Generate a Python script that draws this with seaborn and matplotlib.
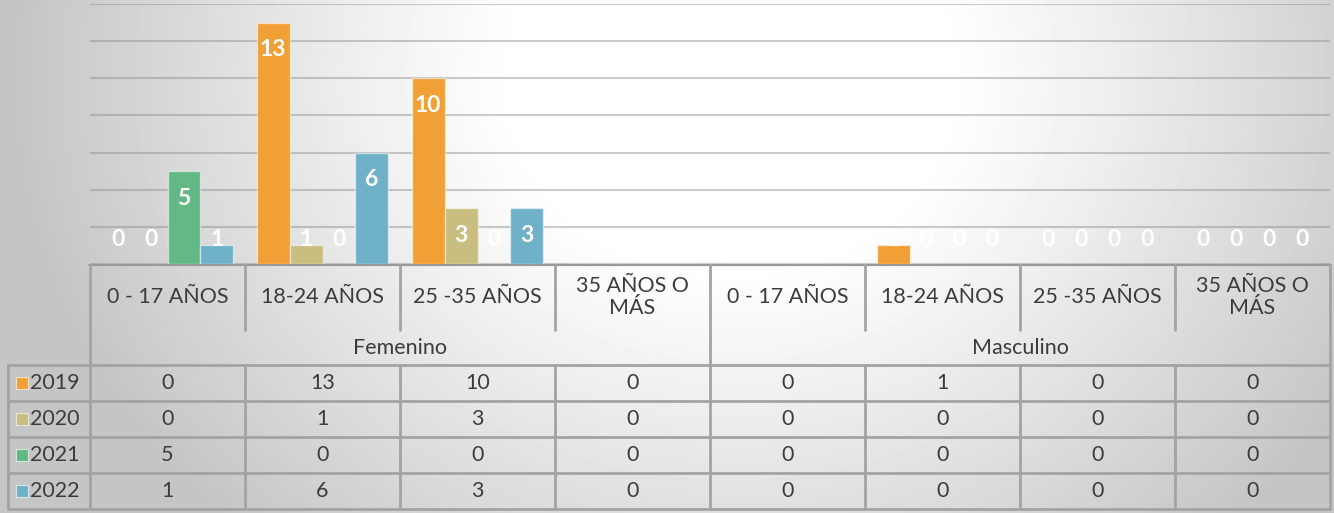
import numpy as np
import pandas as pd
import matplotlib
matplotlib.use("Agg")
import matplotlib.pyplot as plt
import seaborn as sns

# data
groups = ["Femenino", "Masculino"]
ages = ["0 - 17 AÑOS", "18-24 AÑOS", "25 -35 AÑOS", "35 AÑOS O\nMÁS"]
years = ["2019", "2020", "2021", "2022"]
v2019 = [0, 13, 10, 0, 0, 1, 0, 0]
v2020 = [0, 1, 3, 0, 0, 0, 0, 0]
v2021 = [5, 0, 0, 0, 0, 0, 0, 0]
v2022 = [1, 6, 3, 0, 0, 0, 0, 0]
colors = ["#F0A035", "#C9BE80", "#62B985", "#70B1CA"]

cats = [g + "|" + a for g in groups for a in ages]
rows = []
for yr, vals in zip(years, [v2019, v2020, v2021, v2022]):
    for c, v in zip(cats, vals):
        rows.append({"cat": c, "year": yr, "value": v})
df = pd.DataFrame(rows)

sns.set_style("white")
plt.rcParams["font.family"] = ["Lato", "DejaVu Sans"]

W, H = 1334, 513
fig = plt.figure(figsize=(W / 100, H / 100), dpi=100)

# radial gradient background, white plateau in the upper middle
bg = fig.add_axes([0, 0, 1, 1])
yy, xx = np.mgrid[0:H, 0:W]
r = np.sqrt(((xx - 730) / 720.0) ** 2 + ((yy - 80) / 620.0) ** 2)
t = np.clip((r - 0.3) / 0.7, 0, 1)
shade = 1 - 0.23 * t ** 1.1
bg.imshow(shade, cmap="gray", vmin=0, vmax=1, aspect="auto", extent=[0, W, H, 0])
bg.axis("off")

# main bar axes
left, right, base, top = 90, 1330, 264, 4
ax = fig.add_axes([left / W, (H - base) / H, (right - left) / W, (base - top) / H])
ax.patch.set_alpha(0)
sns.barplot(data=df, x="cat", y="value", hue="year", order=cats, hue_order=years,
            palette=colors, saturation=1, width=0.85, ax=ax, legend=False,
            edgecolor=(1, 1, 1, 0.5), linewidth=1)
ax.set_ylim(0, 14)
ax.set_xlim(-0.5, len(cats) - 0.5)
ax.set_yticks(range(0, 15, 2))
ax.yaxis.grid(True, color="#8c8c8c", alpha=0.45, linewidth=1.5)
ax.set_axisbelow(True)
ax.set_xticks([])
ax.set_yticklabels([])
ax.set_xlabel("")
ax.set_ylabel("")
ax.tick_params(left=False)
for s in ax.spines.values():
    s.set_visible(False)

for cont, yr in zip(ax.containers, years):
    for p in cont.patches:
        v = p.get_height()
        ax.text(p.get_x() + p.get_width() / 2, max(v - 1.45, 1.3), f"{v:.0f}",
                ha="center", va="center", color="white", fontsize=16.5,
                fontweight="bold", clip_on=False)

# data table below the plot
tab = fig.add_axes([0, 0, 1, (H - base) / H])
tab.set_xlim(-0.5 - left / 155.0, -0.5 + (W - left) / 155.0)
tab.set_ylim(H - base, 0)
tab.axis("off")
lc = "#a3a3a3"
lw = 2
x0, x1 = -0.5, len(cats) - 0.5
xl = -0.5 - (left - 8) / 155.0
row_edges = [0, 66, 101, 137, 173, 209, 245]

tab.plot([x0, x1], [0, 0], color="#999999", lw=3)
for yv in row_edges[2:]:
    tab.plot([xl, x1], [yv, yv], color=lc, lw=lw)
tab.plot([x0, x0], [0, row_edges[-1]], color=lc, lw=lw)
tab.plot([xl, xl], [row_edges[2], row_edges[-1]], color=lc, lw=lw)
for i in range(1, len(cats) + 1):
    xe = i - 0.5
    if i % len(ages) == 0:
        tab.plot([xe, xe], [0, row_edges[-1]], color=lc, lw=lw)
    else:
        tab.plot([xe, xe], [0, row_edges[1]], color=lc, lw=lw)
        tab.plot([xe, xe], [row_edges[2], row_edges[-1]], color=lc, lw=lw)

tc = "#3c3c3c"
fs = 15.5
for i, c in enumerate(cats):
    tab.text(i, row_edges[1] / 2, c.split("|")[1], ha="center", va="center",
             color=tc, fontsize=fs, linespacing=1.15)
for gi, g in enumerate(groups):
    xc = gi * len(ages) + (len(ages) - 1) / 2
    tab.text(xc, (row_edges[1] + row_edges[2]) / 2, g, ha="center", va="center",
             color=tc, fontsize=fs)
for ri, (yr, vals, col) in enumerate(zip(years, [v2019, v2020, v2021, v2022], colors)):
    yc = (row_edges[ri + 2] + row_edges[ri + 3]) / 2
    tab.scatter([xl + 0.09], [yc], marker="s", s=85, color=col,
                edgecolor=(1, 1, 1, 0.6), linewidth=0.8)
    tab.text(xl + 0.14, yc, yr, ha="left", va="center", color=tc, fontsize=fs)
    for i, v in enumerate(vals):
        tab.text(i, yc, str(v), ha="center", va="center", color=tc, fontsize=fs)

fig.savefig("out.png", dpi=100)
